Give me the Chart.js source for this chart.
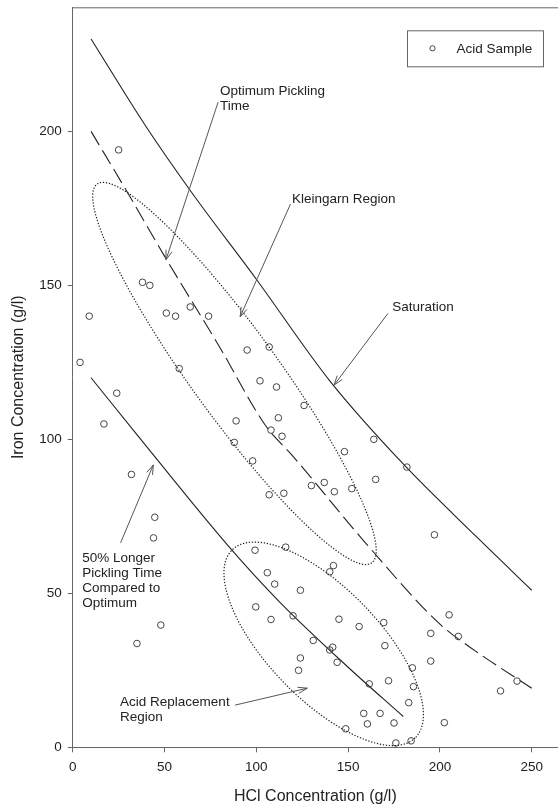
<!DOCTYPE html>
<html>
<head>
<meta charset="utf-8">
<script src="https://cdn.jsdelivr.net/npm/chart.js@4.4.0/dist/chart.umd.min.js"></script>
<style>
  html, body { margin: 0; padding: 0; background: #fff; }
  #wrap { width: 558px; height: 808px; }
</style>
</head>
<body>
<div id="wrap"><canvas id="acidChart" width="558" height="808"></canvas></div>
<script>
// acid samples (HCl g/l, Fe g/l)
const sampleHcl = [25, 38, 42, 9, 51, 56, 64, 74, 4, 58, 95, 107, 102, 111, 24, 17, 89, 112, 108, 126,
  114, 164, 148, 182, 165, 130, 137, 142.5, 152, 115, 107, 197, 116, 142, 140, 110, 106, 124, 108, 120,
  145, 156, 169.4, 205, 195, 210, 131, 141.6, 140, 170, 124, 144, 195, 123, 185, 161.5, 172, 185.6, 183, 158.5,
  167.4, 202.4, 160.5, 175, 148.7, 176, 184.3, 88, 98, 32, 44.7, 44, 99.3, 99.7, 48, 35, 242, 233];
const sampleIron = [194, 151, 150, 140, 141, 140, 143, 140, 125, 123, 129, 130, 119, 117, 115, 105, 106, 107, 103, 111,
  101, 100, 96, 91, 87, 85, 86, 83, 84, 82.5, 82, 69, 65, 59, 57, 53, 56.7, 51, 41.5, 42.7,
  41.6, 39.2, 40.5, 43, 37, 36, 34.7, 32.5, 31.6, 33, 29, 27.6, 28, 25, 25.8, 20.6, 21.6, 19.7, 14.5, 11,
  11, 8, 7.6, 7.9, 6, 1.4, 2.1, 99, 93, 88.6, 74.7, 68, 64, 45.6, 39.7, 33.7, 21.5, 18.3];

// reference curves
const saturationHcl = [10, 40, 65, 100, 140, 180, 220, 250];
const saturationIron = [230, 201.5, 180, 152, 119, 92, 68.3, 51];
const optimumHcl = [10, 30, 50, 80, 105, 120, 160, 200, 220, 250];
const optimumIron = [200, 180, 159.5, 130, 104.5, 94.5, 66, 40, 31, 19.2];
const longerHcl = [10, 33, 86, 113, 150, 180];
const longerIron = [120, 103, 64.5, 47, 26, 10];

const xTicks = [0, 50, 100, 150, 200, 250];
const yTicks = [0, 50, 100, 150, 200];

// dotted regions: centre, major and minor half axis (data units)
const kleingarnCentre = [88.1, 121.4];
const kleingarnMajor = [74.8, -61.5];
const kleingarnMinor = [-19.2, -8.3];
const replacementCentre = [136.7, 33.6];
const replacementMajor = [49.8, -30.55];
const replacementMinor = [-21.7, -12.6];

// callouts
const noteLines = [['Optimum Pickling', 'Time'], ['Kleingarn Region'], ['Saturation'],
  ['50% Longer', 'Pickling Time', 'Compared to', 'Optimum'], ['Acid Replacement', 'Region']];
const noteAt = [[80.2, 213.1], [119.4, 178.1], [174, 143], [5.2, 61.5], [25.8, 14.5]];
const arrowFrom = [[79.2, 209.5], [118.6, 176.4], [171.7, 140.9], [26.1, 66.4], [88.4, 13.7]];
const arrowTo = [[50.8, 158.3], [91.2, 139.8], [142.3, 117.6], [43.9, 91.7], [127.8, 19.2]];

const pairs = (xs, ys) => xs.map((x, i) => ({ x: x, y: ys[i] }));
const FONT = "'Liberation Sans', Arial, Helvetica, sans-serif";
Chart.defaults.font.family = FONT;

const curve = (label, xs, ys, dash) => ({
  label: label,
  data: pairs(xs, ys),
  showLine: true,
  borderColor: '#222',
  borderWidth: 1.1,
  borderDash: dash,
  pointRadius: 0,
  cubicInterpolationMode: 'monotone',
  fill: false,
});

// ellipses, arrows, notes, frame and legend
const extras = {
  id: 'extras',
  afterDatasetsDraw(chart) {
    const { ctx, chartArea } = chart;
    const xs = chart.scales.x, ys = chart.scales.y;
    const px = (p) => [xs.getPixelForValue(p[0]), ys.getPixelForValue(p[1])];
    ctx.save();

    // top frame line
    ctx.strokeStyle = '#666';
    ctx.lineWidth = 1;
    ctx.beginPath();
    ctx.moveTo(chartArea.left, chartArea.top + 0.5);
    ctx.lineTo(chartArea.right, chartArea.top + 0.5);
    ctx.stroke();

    const ellipse = (c, a, b) => {
      ctx.beginPath();
      for (let i = 0; i <= 240; i++) {
        const t = i / 240 * Math.PI * 2;
        const p = px([c[0] + a[0] * Math.cos(t) + b[0] * Math.sin(t), c[1] + a[1] * Math.cos(t) + b[1] * Math.sin(t)]);
        if (i === 0) ctx.moveTo(p[0], p[1]); else ctx.lineTo(p[0], p[1]);
      }
      ctx.stroke();
    };
    ctx.strokeStyle = '#222';
    ctx.lineWidth = 1.2;
    ctx.setLineDash([1.3, 1.7]);
    ellipse(kleingarnCentre, kleingarnMajor, kleingarnMinor);
    ellipse(replacementCentre, replacementMajor, replacementMinor);
    ctx.setLineDash([]);
    ctx.lineWidth = 1;

    // arrows
    ctx.strokeStyle = '#555';
    arrowFrom.forEach((f, i) => {
      const a = px(f), b = px(arrowTo[i]);
      const ang = Math.atan2(b[1] - a[1], b[0] - a[0]);
      ctx.beginPath();
      ctx.moveTo(a[0], a[1]);
      ctx.lineTo(b[0], b[1]);
      [0.32, -0.32].forEach(d => {
        ctx.moveTo(b[0], b[1]);
        ctx.lineTo(b[0] - 10 * Math.cos(ang + d), b[1] - 10 * Math.sin(ang + d));
      });
      ctx.stroke();
    });

    // notes
    ctx.fillStyle = '#222';
    ctx.font = '13.5px ' + FONT;
    ctx.textAlign = 'left';
    ctx.textBaseline = 'middle';
    noteLines.forEach((lines, i) => {
      const p = px(noteAt[i]);
      lines.forEach((t, j) => ctx.fillText(t, p[0], p[1] + j * 15));
    });

    // legend box
    const ds = chart.data.datasets[0];
    const bx = chartArea.right - 151, by = chartArea.top + 23;
    ctx.strokeStyle = '#666';
    ctx.strokeRect(bx + 0.5, by + 0.5, 136, 36);
    ctx.beginPath();
    ctx.arc(bx + 25.5, by + 18, 2.6, 0, Math.PI * 2);
    ctx.strokeStyle = ds.borderColor;
    ctx.stroke();
    ctx.fillText(ds.label, bx + 49.5, by + 18.5);
    ctx.restore();
  }
};

const axisFont = { size: 13.5 };
new Chart(document.getElementById('acidChart'), {
  type: 'scatter',
  data: {
    datasets: [
      {
        label: 'Acid Sample',
        data: pairs(sampleHcl, sampleIron),
        pointStyle: 'circle',
        pointRadius: 3.3,
        borderColor: '#444',
        backgroundColor: 'rgba(0,0,0,0)',
        borderWidth: 1,
      },
      curve('Saturation', saturationHcl, saturationIron, []),
      curve('Optimum', optimumHcl, optimumIron, [16, 6]),
      curve('50% Longer', longerHcl, longerIron, []),
    ],
  },
  options: {
    responsive: false,
    animation: false,
    layout: { autoPadding: false, padding: { top: 7.3, right: 0, bottom: 0, left: 0 } },
    plugins: { legend: { display: false }, tooltip: { enabled: false } },
    scales: {
      x: {
        type: 'linear',
        min: 0,
        max: 264.3,
        afterFit: (s) => { s.height = 60.7; s.paddingLeft = 0; s.paddingRight = 0; },
        afterBuildTicks: (s) => { s.ticks = xTicks.map(v => ({ value: v })); },
        grid: { drawOnChartArea: false, tickLength: 5, color: '#666' },
        border: { color: '#666' },
        ticks: { padding: 7, color: '#222', font: axisFont, maxRotation: 0 },
        title: { display: true, text: 'HCl Concentration (g/l)', color: '#222', font: { size: 16 }, padding: { top: 0, bottom: 2 } },
      },
      y: {
        type: 'linear',
        min: 0,
        max: 240.3,
        afterFit: (s) => { s.width = 72.7; s.paddingTop = 0; s.paddingBottom = 0; },
        afterBuildTicks: (s) => { s.ticks = yTicks.map(v => ({ value: v })); },
        grid: { drawOnChartArea: false, tickLength: 5, color: '#666' },
        border: { color: '#666' },
        ticks: { padding: 6, color: '#222', font: axisFont },
        title: { display: true, text: 'Iron Concentration (g/l)', color: '#222', font: { size: 16 }, padding: { top: 9, bottom: 0 } },
      },
    },
  },
  plugins: [extras],
});
</script>
</body>
</html>
